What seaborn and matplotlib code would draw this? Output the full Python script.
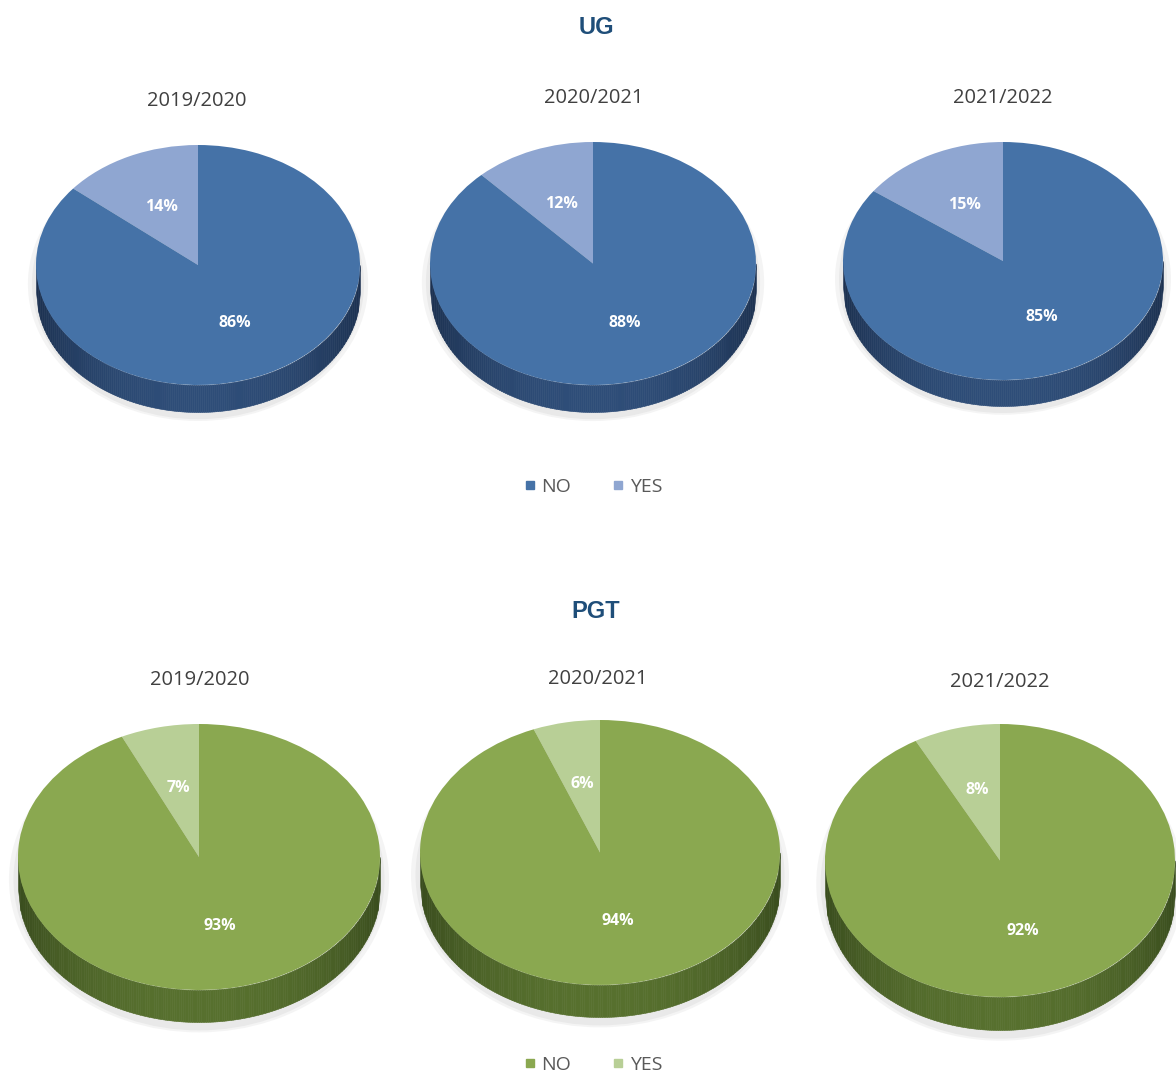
import numpy as np
import matplotlib
matplotlib.use("Agg")
import matplotlib.pyplot as plt
from matplotlib.lines import Line2D
from matplotlib.patches import Ellipse
from matplotlib.colors import to_rgb
import seaborn as sns

# Data
years = ["2019/2020", "2020/2021", "2021/2022"]
answers = ["NO", "YES"]
ug_no = [86, 88, 85]
ug_yes = [14, 12, 15]
pgt_no = [93, 94, 92]
pgt_yes = [7, 6, 8]

sns.set_theme(style="white")
plt.rcParams["font.family"] = ["Open Sans", "DejaVu Sans"]

W, H = 1176, 1077
fig = plt.figure(figsize=(W / 100, H / 100), dpi=100)
fig.patch.set_facecolor("white")

# pixel boxes of the pies: centre x, top, x radius, depth, bottom
ug_boxes = [(198, 145, 162, 27, 412), (593, 142, 163, 27, 412), (1003, 142, 160, 26, 406)]
pgt_boxes = [(199, 724, 181, 32, 1022), (600, 720, 180, 32, 1017), (1000, 724, 175, 33, 1030)]

ug_cols = sns.color_palette(["#4572a7", "#8fa6d1"])
pgt_cols = sns.color_palette(["#8aa850", "#b8cf96"])


def draw_pie(box, no, yes, cols, side_mid, side_edge):
    cx, top, rx, depth, bottom = box
    ry = (bottom - top - depth) / 2
    dn = depth / ry
    ax = fig.add_axes([(cx - rx) / W, 1 - bottom / H, 2 * rx / W, (bottom - top) / H])

    # soft shadow
    for k, a in [(0.10, 0.3), (0.05, 0.45)]:
        ax.add_patch(Ellipse((0, -dn * 0.7), 2 + k, 2 + dn + k * 0.6, color="#dcdcdc",
                             alpha=a, lw=0, clip_on=False, zorder=0))

    # side wall of the 3D pie
    mid, edge = np.array(to_rgb(side_mid)), np.array(to_rgb(side_edge))
    xs = np.linspace(-1, 1, 161)
    for x0, x1 in zip(xs[:-1], xs[1:]):
        t = abs((x0 + x1) / 2) ** 2.5
        c = mid * (1 - t) + edge * t
        seg = np.array([x0, x1])
        yt = -np.sqrt(np.clip(1 - seg ** 2, 0, None))
        ax.fill_between(seg, yt, yt - dn, color=c, ec=c, lw=0.4, zorder=1)

    ax.pie([yes, no], colors=[cols[1], cols[0]], startangle=90, counterclock=True,
           autopct="%1.0f%%", pctdistance=0.53, radius=1,
           wedgeprops=dict(lw=0, zorder=2),
           textprops=dict(color="white", fontsize=11.5, fontweight="bold"))
    ax.set_aspect("auto")
    ax.set_xlim(-1, 1)
    ax.set_ylim(-1 - dn, 1)
    ax.axis("off")


for i in range(3):
    draw_pie(ug_boxes[i], ug_no[i], ug_yes[i], ug_cols, "#2e4d78", "#1c3150")
    draw_pie(pgt_boxes[i], pgt_no[i], pgt_yes[i], pgt_cols, "#57702e", "#3a4d1e")

# titles
title_font = dict(family=["Liberation Sans", "DejaVu Sans"], fontsize=17,
                  fontweight="bold", color="#1f4e79", ha="center", va="center")
fig.text(596 / W, 1 - 28 / H, "UG", **title_font)
fig.text(596 / W, 1 - 611 / H, "PGT", **title_font)

ug_year_pos = [(197, 101), (594, 98), (1003, 98)]
pgt_year_pos = [(200, 680), (598, 679), (1000, 682)]
for yr, (x, y) in zip(years, ug_year_pos):
    fig.text(x / W, 1 - y / H, yr, fontsize=14.5, color="#404040", ha="center", va="center")
for yr, (x, y) in zip(years, pgt_year_pos):
    fig.text(x / W, 1 - y / H, yr, fontsize=14.5, color="#404040", ha="center", va="center")


def add_legend(cols, y):
    handles = [Line2D([], [], marker="s", ls="", color=cols[j], markersize=5.5, label=answers[j])
               for j in range(2)]
    fig.legend(handles=handles, loc="center", bbox_to_anchor=(593 / W, 1 - y / H), ncol=2,
               frameon=False, fontsize=14, labelcolor="#595959", handlelength=0.6,
               handletextpad=0.3, columnspacing=2.1)


add_legend(ug_cols, 487)
add_legend(pgt_cols, 1065)

fig.savefig("out.png", dpi=100, facecolor="white")
